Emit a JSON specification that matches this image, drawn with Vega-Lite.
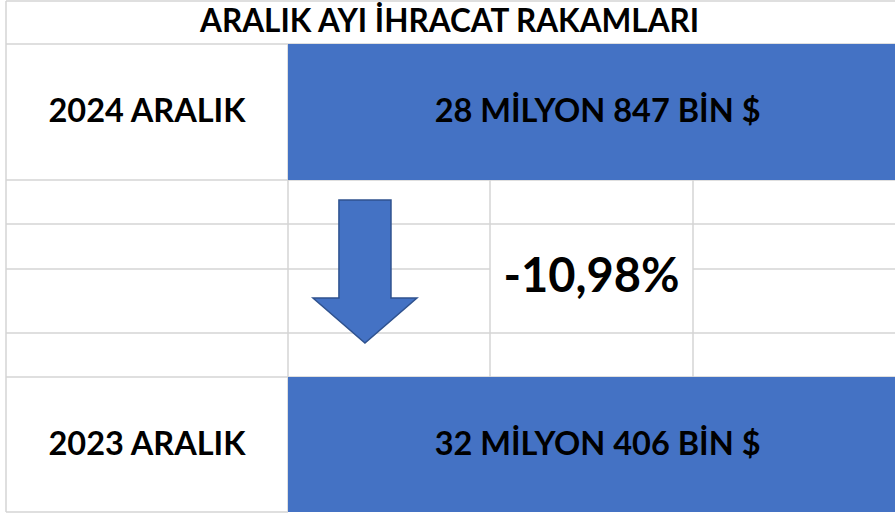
{
  "$schema": "https://vega.github.io/schema/vega-lite/v6.json",
  "width": 895,
  "height": 518,
  "autosize": {"type": "none"},
  "padding": 0,
  "background": "white",
  "config": {"view": {"stroke": null}, "axis": {"disable": true}},
  "datasets": {
    "hlines": [
      {"row": 0, "c1": 0, "c2": 4},
      {"row": 1, "c1": 0, "c2": 4},
      {"row": 2, "c1": 0, "c2": 4},
      {"row": 3, "c1": 0, "c2": 4},
      {"row": 4, "c1": 0, "c2": 2},
      {"row": 4, "c1": 3, "c2": 4},
      {"row": 5, "c1": 0, "c2": 4},
      {"row": 6, "c1": 0, "c2": 4},
      {"row": 7, "c1": 0, "c2": 1}
    ],
    "vlines": [
      {"col": 0, "r1": 0, "r2": 7},
      {"col": 1, "r1": 1, "r2": 7},
      {"col": 2, "r1": 2, "r2": 6},
      {"col": 3, "r1": 2, "r2": 6}
    ],
    "fills": [
      {"year": "2024", "c1": 1, "c2": 4, "r1": 1, "r2": 2},
      {"year": "2023", "c1": 1, "c2": 4, "r1": 6, "r2": 7}
    ],
    "labels": [
      {"kind": "title", "text": "ARALIK AYI İHRACAT RAKAMLARI", "col": 1.8, "row": 0.5},
      {"kind": "label", "text": "2024 ARALIK", "col": 0.5, "row": 1.5},
      {"kind": "label", "text": "28 MİLYON 847 BİN $", "col": 2.53, "row": 1.5},
      {"kind": "label", "text": "2023 ARALIK", "col": 0.5, "row": 6.5},
      {"kind": "label", "text": "32 MİLYON 406 BİN $", "col": 2.53, "row": 6.5},
      {"kind": "change", "text": "-10,98%", "col": 2.5, "row": 4.14}
    ],
    "arrow": [
      {"direction": "down", "col": 1.381, "row": 4.04}
    ]
  },
  "layer": [
    {
      "data": {"name": "hlines"},
      "mark": {"type": "rule", "color": "#d4d4d4", "strokeWidth": 1.5},
      "encoding": {
        "x": {"field": "c1", "type": "quantitative", "scale": {"type": "linear", "domain": [0, 1, 2, 3, 4], "range": [6, 288, 490, 693, 895]}},
        "x2": {"field": "c2"},
        "y": {"field": "row", "type": "quantitative", "scale": {"type": "linear", "domain": [0, 1, 2, 3, 4, 5, 6, 7], "range": [1, 44, 180, 224, 269, 333, 377, 512]}}
      }
    },
    {
      "data": {"name": "vlines"},
      "mark": {"type": "rule", "color": "#d4d4d4", "strokeWidth": 1.5},
      "encoding": {
        "x": {"field": "col", "type": "quantitative"},
        "y": {"field": "r1", "type": "quantitative"},
        "y2": {"field": "r2"}
      }
    },
    {
      "data": {"name": "fills"},
      "mark": {"type": "rect", "color": "#4472c4"},
      "encoding": {
        "x": {"field": "c1", "type": "quantitative"},
        "x2": {"field": "c2"},
        "y": {"field": "r1", "type": "quantitative"},
        "y2": {"field": "r2"}
      }
    },
    {
      "data": {"name": "arrow"},
      "mark": {
        "type": "point",
        "filled": true,
        "shape": "M-0.364,-1 L0.364,-1 L0.364,0.371 L0.727,0.371 L0,1 L-0.727,0.371 L-0.364,0.371 Z",
        "size": 20449,
        "fill": "#4472c4",
        "stroke": "#2f528f",
        "strokeWidth": 1.5,
        "opacity": 1
      },
      "encoding": {
        "x": {"field": "col", "type": "quantitative"},
        "y": {"field": "row", "type": "quantitative"}
      }
    },
    {
      "data": {"name": "labels"},
      "transform": [{"filter": "datum.kind === 'title'"}],
      "mark": {"type": "text", "font": "Lato", "fontWeight": "bold", "fontSize": 31.5, "color": "black", "align": "center", "baseline": "middle"},
      "encoding": {
        "x": {"field": "col", "type": "quantitative"},
        "y": {"field": "row", "type": "quantitative"},
        "text": {"field": "text"}
      }
    },
    {
      "data": {"name": "labels"},
      "transform": [{"filter": "datum.kind === 'label'"}],
      "mark": {"type": "text", "font": "Lato", "fontWeight": "bold", "fontSize": 32.5, "color": "black", "align": "center", "baseline": "middle"},
      "encoding": {
        "x": {"field": "col", "type": "quantitative"},
        "y": {"field": "row", "type": "quantitative"},
        "text": {"field": "text"}
      }
    },
    {
      "data": {"name": "labels"},
      "transform": [{"filter": "datum.kind === 'change'"}],
      "mark": {"type": "text", "font": "Lato", "fontWeight": "bold", "fontSize": 47, "color": "black", "align": "center", "baseline": "middle"},
      "encoding": {
        "x": {"field": "col", "type": "quantitative"},
        "y": {"field": "row", "type": "quantitative"},
        "text": {"field": "text"}
      }
    }
  ]
}
